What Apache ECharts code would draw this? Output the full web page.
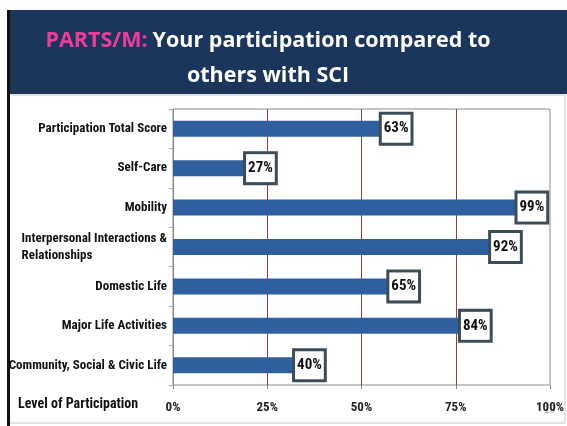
<!DOCTYPE html>
<html>
<head>
<meta charset="utf-8">
<script src="https://cdn.jsdelivr.net/npm/echarts@6/dist/echarts.min.js"></script>
<style>
html, body { margin: 0; padding: 0; background: #fff; }
#main { width: 567px; height: 426px; }
</style>
</head>
<body>
<div id="main"></div>
<script>
var categories = [
	'Participation Total Score',
	'Self-Care',
	'Mobility',
	'Interpersonal Interactions &\nRelationships',
	'Domestic Life',
	'Major Life Activities',
	'Community, Social & Civic Life'
];
var scores = [63, 27, 99, 92, 65, 84, 40];
var xTicks = [0, 25, 50, 75, 100];

var narrow = '"Roboto Condensed", "Liberation Sans Narrow", sans-serif';

var myChart = echarts.init(document.getElementById('main'));
var option = {
	backgroundColor: '#ffffff',
	animation: false,
	title: {
		left: 263,
		top: 18,
		textAlign: 'center',
		text: '{p|PARTS/M:} {w|Your participation compared to}\n{w|others with SCI}',
		textStyle: {
			rich: {
				p: { color: '#f03c98', fontSize: 21.5, fontWeight: 'bold', fontFamily: 'Open Sans', lineHeight: 35 },
				w: { color: '#ffffff', fontSize: 21.5, fontWeight: 'bold', fontFamily: 'Open Sans', lineHeight: 35 }
			}
		}
	},
	graphic: [
		{ type: 'rect', z: -10, shape: { x: 8, y: 10, width: 559, height: 84 }, style: { fill: '#1b365d' } },
		{ type: 'rect', z: -10, shape: { x: 9, y: 95, width: 556, height: 328 }, style: { fill: '#ffffff', stroke: '#c8c8c8', lineWidth: 1 } },
		{ type: 'rect', z: -9, shape: { x: 7, y: 10, width: 3, height: 416 }, style: { fill: '#111' } },
		{ type: 'text', left: 18, top: 397, style: { text: 'Level of Participation', font: 'bold 14px ' + narrow, fill: '#111' } },
		{ type: 'text', left: 544, top: 405, style: { text: '19', font: '10px sans-serif', fill: '#aaa' } }
	],
	grid: {
		left: 173,
		right: 17,
		top: 109,
		bottom: 41,
		outerBoundsMode: 'none',
		containLabel: false,
		show: true,
		borderColor: '#8a8a8a',
		borderWidth: 1
	},
	xAxis: {
		type: 'value',
		min: xTicks[0],
		max: xTicks[xTicks.length - 1],
		interval: 25,
		axisLine: { show: false },
		axisTick: { show: true, length: 4, lineStyle: { color: '#888' } },
		axisLabel: {
			formatter: '{value}%',
			margin: 16,
			fontFamily: narrow,
			fontWeight: 'bold',
			fontSize: 13,
			color: '#222'
		},
		splitLine: { show: true, showMinLine: false, showMaxLine: false, lineStyle: { color: '#9c3a3a', width: 1 } }
	},
	yAxis: {
		type: 'category',
		inverse: true,
		data: categories,
		axisLine: { show: true, lineStyle: { color: '#8a8a8a' } },
		axisTick: { show: true, length: 4, lineStyle: { color: '#aaa' } },
		axisLabel: {
			margin: 6,
			fontFamily: narrow,
			fontWeight: 'bold',
			fontSize: 13,
			color: '#111',
			formatter: function(v) {
				return v.split('\n').map(function(s) { return '{l|' + s + '}'; }).join('\n');
			},
			rich: {
				l: { align: 'left', fontFamily: narrow, fontWeight: 'bold', fontSize: 13, color: '#111', lineHeight: 17 }
			}
		}
	},
	series: [{
		type: 'bar',
		data: scores,
		barWidth: 16,
		itemStyle: { color: '#2f5f9e' },
		label: {
			show: true,
			position: 'insideRight',
			distance: 0,
			formatter: '{c}%',
			backgroundColor: '#ffffff',
			borderColor: '#3a4d58',
			borderWidth: 3,
			padding: [7, 2, 6, 2],
			fontFamily: narrow,
			fontWeight: 'bold',
			fontSize: 15,
			color: '#111'
		}
	}]
};
myChart.setOption(option);
</script>
</body>
</html>
